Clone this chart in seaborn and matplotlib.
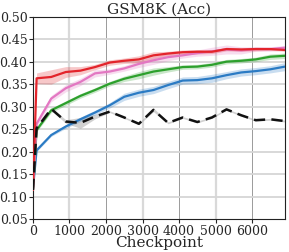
import matplotlib
matplotlib.use("Agg")
import matplotlib.pyplot as plt
import seaborn as sns
import numpy as np
import pandas as pd

checkpoints = [0, 100, 500, 900, 1300, 1700, 2100, 2500, 2900, 3300, 3700,
               4100, 4500, 4900, 5300, 5700, 6100, 6500, 6900]

red_vals = [0.115, 0.363, 0.366, 0.377, 0.380, 0.388, 0.398, 0.402, 0.405, 0.414,
            0.418, 0.421, 0.422, 0.422, 0.428, 0.427, 0.428, 0.428, 0.426]
red_err = [0.0, 0.012, 0.016, 0.012, 0.009, 0.006, 0.006, 0.006, 0.008, 0.008,
           0.005, 0.005, 0.005, 0.004, 0.004, 0.004, 0.004, 0.003, 0.003]

pink_vals = [0.115, 0.262, 0.318, 0.341, 0.355, 0.374, 0.378, 0.385, 0.395, 0.403,
             0.410, 0.414, 0.419, 0.423, 0.427, 0.425, 0.428, 0.428, 0.431]
pink_err = [0.0, 0.007, 0.007, 0.008, 0.008, 0.008, 0.006, 0.006, 0.008, 0.009,
            0.008, 0.006, 0.007, 0.009, 0.010, 0.008, 0.005, 0.005, 0.005]

green_vals = [0.115, 0.248, 0.292, 0.308, 0.324, 0.337, 0.351, 0.362, 0.370, 0.378,
              0.383, 0.388, 0.389, 0.393, 0.400, 0.402, 0.405, 0.411, 0.413]
green_err = [0.0, 0.004, 0.005, 0.005, 0.005, 0.005, 0.005, 0.006, 0.008, 0.008,
             0.006, 0.005, 0.005, 0.005, 0.005, 0.005, 0.005, 0.006, 0.006]

blue_vals = [0.118, 0.203, 0.237, 0.256, 0.272, 0.287, 0.303, 0.322, 0.331, 0.337,
             0.348, 0.358, 0.359, 0.363, 0.370, 0.376, 0.379, 0.383, 0.389]
blue_err = [0.0, 0.003, 0.003, 0.004, 0.005, 0.005, 0.006, 0.008, 0.008, 0.008,
            0.008, 0.008, 0.008, 0.009, 0.008, 0.008, 0.008, 0.008, 0.009]

black_vals = [0.115, 0.252, 0.295, 0.267, 0.264, 0.278, 0.289, 0.276, 0.262, 0.293,
              0.264, 0.276, 0.266, 0.276, 0.294, 0.281, 0.270, 0.272, 0.268]
black_err = [0.0, 0.002, 0.003, 0.004, 0.012, 0.005, 0.002, 0.002, 0.002, 0.004,
             0.002, 0.002, 0.002, 0.002, 0.002, 0.002, 0.002, 0.002, 0.002]

series = [
    ("black", black_vals, black_err, "#111111", (4.5, 2.5), "#9a9a9a"),
    ("blue", blue_vals, blue_err, "#2b7bc4", None, "#2b7bc4"),
    ("green", green_vals, green_err, "#2ca02c", None, "#2ca02c"),
    ("pink", pink_vals, pink_err, "#e377c2", None, "#e377c2"),
    ("red", red_vals, red_err, "#e3242b", None, "#e3242b"),
]

sns.set_style("white")
plt.rcParams["font.family"] = ["DejaVu Serif"]

fig = plt.figure(figsize=(2.89, 2.52), dpi=100)
ax = fig.add_axes([0.114, 0.130, 0.872, 0.804])

# grid
for xv in [1000, 3000, 5000]:
    ax.axvline(xv, color="#d9d9d9", lw=1.6, zorder=0)
for xv in [2000, 4000, 6000]:
    ax.axvline(xv, color="#9a9a9a", lw=0.7, zorder=0)
for yv in np.arange(0.10, 0.50, 0.05):
    ax.axhline(yv, color="#d6d6d6", lw=1.3, zorder=0)

for name, vals, err, col, dash, bandcol in series:
    v = np.array(vals)
    e = np.array(err)
    alpha = 0.45 if name == "black" else 0.25
    ax.fill_between(checkpoints, v - e, v + e, color=bandcol, alpha=alpha,
                    lw=0, zorder=2)

for name, vals, err, col, dash, bandcol in [series[1], series[2], series[3], series[4], series[0]]:
    df = pd.DataFrame({"Checkpoint": checkpoints, "val": vals})
    sns.lineplot(data=df, x="Checkpoint", y="val", ax=ax, color=col,
                 lw=1.8 if dash else 1.6, zorder=3)
    if dash is not None:
        ax.lines[-1].set_dashes(dash)

ax.set_xlim(0, 6900)
ax.set_ylim(0.05, 0.50)
ax.set_xticks(range(0, 7000, 1000))
ax.set_yticks(np.round(np.arange(0.05, 0.501, 0.05), 2))
ax.set_yticklabels([f"{t:.2f}" for t in np.arange(0.05, 0.501, 0.05)])
ax.tick_params(axis="both", labelsize=9, length=3, width=0.8, pad=1,
               direction="out", bottom=True, left=True)
ax.set_xlabel("Checkpoint", fontsize=11, labelpad=-1)
ax.set_ylabel("")
ax.set_title("GSM8K (Acc)", fontsize=11, pad=2)
for s in ax.spines.values():
    s.set_color("#222222")
    s.set_linewidth(0.8)

fig.savefig("out.png", dpi=100)
